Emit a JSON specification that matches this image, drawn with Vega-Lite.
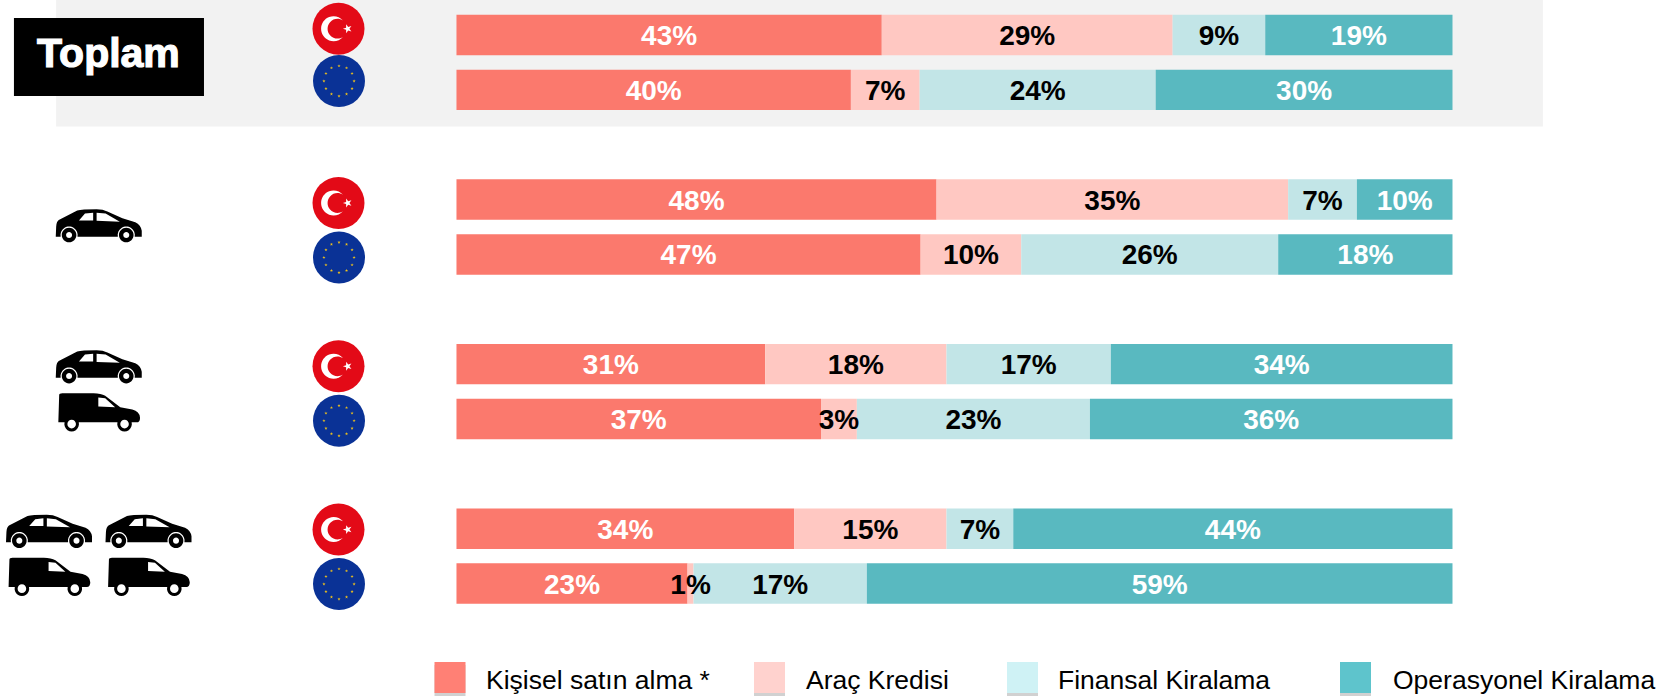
{"$schema":"https://vega.github.io/schema/vega-lite/v6.json","width":1675,"height":696,"padding":0,"autosize":{"type":"fit","contains":"padding"},"background":"white","config":{"view":{"stroke":null},"axis":{"disable":true},"legend":{"disable":true}},"resolve":{"scale":{"x":"independent","y":"independent","color":"independent"}},
"datasets":{"panel":[{"group":"Toplam"}],
"shares":[
{"row":"Toplam-TR","category":"Kişisel satın alma *","order":1,"value":42.7,"label":"43%"},{"row":"Toplam-TR","category":"Araç Kredisi","order":2,"value":29.2,"label":"29%"},{"row":"Toplam-TR","category":"Finansal Kiralama","order":3,"value":9.3,"label":"9%"},{"row":"Toplam-TR","category":"Operasyonel Kiralama","order":4,"value":18.8,"label":"19%"},
{"row":"Toplam-EU","category":"Kişisel satın alma *","order":1,"value":39.6,"label":"40%"},{"row":"Toplam-EU","category":"Araç Kredisi","order":2,"value":6.9,"label":"7%"},{"row":"Toplam-EU","category":"Finansal Kiralama","order":3,"value":23.7,"label":"24%"},{"row":"Toplam-EU","category":"Operasyonel Kiralama","order":4,"value":29.8,"label":"30%"},
{"row":"Binek-TR","category":"Kişisel satın alma *","order":1,"value":48.2,"label":"48%"},{"row":"Binek-TR","category":"Araç Kredisi","order":2,"value":35.3,"label":"35%"},{"row":"Binek-TR","category":"Finansal Kiralama","order":3,"value":6.9,"label":"7%"},{"row":"Binek-TR","category":"Operasyonel Kiralama","order":4,"value":9.6,"label":"10%"},
{"row":"Binek-EU","category":"Kişisel satın alma *","order":1,"value":46.6,"label":"47%"},{"row":"Binek-EU","category":"Araç Kredisi","order":2,"value":10.1,"label":"10%"},{"row":"Binek-EU","category":"Finansal Kiralama","order":3,"value":25.8,"label":"26%"},{"row":"Binek-EU","category":"Operasyonel Kiralama","order":4,"value":17.5,"label":"18%"},
{"row":"Karma-TR","category":"Kişisel satın alma *","order":1,"value":31,"label":"31%"},{"row":"Karma-TR","category":"Araç Kredisi","order":2,"value":18.2,"label":"18%"},{"row":"Karma-TR","category":"Finansal Kiralama","order":3,"value":16.5,"label":"17%"},{"row":"Karma-TR","category":"Operasyonel Kiralama","order":4,"value":34.3,"label":"34%"},
{"row":"Karma-EU","category":"Kişisel satın alma *","order":1,"value":36.6,"label":"37%"},{"row":"Karma-EU","category":"Araç Kredisi","order":2,"value":3.6,"label":"3%"},{"row":"Karma-EU","category":"Finansal Kiralama","order":3,"value":23.4,"label":"23%"},{"row":"Karma-EU","category":"Operasyonel Kiralama","order":4,"value":36.4,"label":"36%"},
{"row":"Filo-TR","category":"Kişisel satın alma *","order":1,"value":33.9,"label":"34%"},{"row":"Filo-TR","category":"Araç Kredisi","order":2,"value":15.3,"label":"15%"},{"row":"Filo-TR","category":"Finansal Kiralama","order":3,"value":6.7,"label":"7%"},{"row":"Filo-TR","category":"Operasyonel Kiralama","order":4,"value":44.1,"label":"44%"},
{"row":"Filo-EU","category":"Kişisel satın alma *","order":1,"value":23.2,"label":"23%"},{"row":"Filo-EU","category":"Araç Kredisi","order":2,"value":0.6,"label":"1%"},{"row":"Filo-EU","category":"Finansal Kiralama","order":3,"value":17.4,"label":"17%"},{"row":"Filo-EU","category":"Operasyonel Kiralama","order":4,"value":58.8,"label":"59%"}],
"flags":[{"row":"Toplam-TR","flag":"TR"},{"row":"Toplam-EU","flag":"EU"},{"row":"Binek-TR","flag":"TR"},{"row":"Binek-EU","flag":"EU"},{"row":"Karma-TR","flag":"TR"},{"row":"Karma-EU","flag":"EU"},{"row":"Filo-TR","flag":"TR"},{"row":"Filo-EU","flag":"EU"}],
"vehicles":[{"row":"Binek-TR","column":"center","type":"sedan"},{"row":"Karma-TR","column":"center","type":"sedan"},{"row":"Karma-EU","column":"center","type":"van"},{"row":"Filo-TR","column":"left","type":"sedan"},{"row":"Filo-TR","column":"right","type":"sedan"},{"row":"Filo-EU","column":"left","type":"van"},{"row":"Filo-EU","column":"right","type":"van"}],
"legend":[{"category":"Kişisel satın alma *","order":1},{"category":"Araç Kredisi","order":2},{"category":"Finansal Kiralama","order":3},{"category":"Operasyonel Kiralama","order":4}]},
"layer":[
{"data":{"name":"panel"},"mark":{"type":"rect","fill":"#F2F2F2"},"encoding":{"x":{"datum":-40.2,"type":"quantitative","scale":{"domain":[-45.83,122.34],"zero":false,"nice":false}},"x2":{"datum":109.08},"y":{"field":"group","type":"nominal","scale":{"type":"band","domain":["Toplam"],"range":[0,126.5],"padding":0}}}},
{"data":{"name":"panel"},"mark":{"type":"rect","fill":"#000000"},"encoding":{"x":{"datum":-44.43,"type":"quantitative","scale":{"domain":[-45.83,122.34],"zero":false,"nice":false}},"x2":{"datum":-25.35},"y":{"field":"group","type":"nominal","scale":{"type":"band","domain":["Toplam"],"range":[18,96],"padding":0}}}},
{"data":{"name":"panel"},"mark":{"type":"text","fill":"#FFFFFF","stroke":"#FFFFFF","strokeWidth":1.2,"font":"Liberation Sans","fontWeight":"bold","fontSize":41,"align":"center","baseline":"middle"},"encoding":{"text":{"field":"group"},"x":{"datum":-34.94,"type":"quantitative","scale":{"domain":[-45.83,122.34],"zero":false,"nice":false}},"y":{"field":"group","type":"nominal","scale":{"type":"band","domain":["Toplam"],"range":[18,92],"padding":0}}}},
{"data":{"name":"shares"},"transform":[{"stack":"value","groupby":["row"],"sort":[{"field":"order","order":"ascending"}],"as":["start","end"]}],"mark":{"type":"bar"},"encoding":{"x":{"field":"start","type":"quantitative","scale":{"domain":[-45.83,122.34],"zero":false,"nice":false}},"x2":{"field":"end"},"y":{"field":"row","type":"nominal","scale":{"type":"band","domain":["Toplam-TR","Toplam-EU","gap1","Binek-TR","Binek-EU","gap2","Karma-TR","Karma-EU","gap3","Filo-TR","Filo-EU"],"range":[7.6,610.95],"paddingInner":0.262,"paddingOuter":0.131}},"color":{"field":"category","type":"nominal","scale":{"domain":["Kişisel satın alma *","Araç Kredisi","Finansal Kiralama","Operasyonel Kiralama"],"range":["#FB796D","#FFC8C2","#C2E5E7","#59B9C0"]}}}},
{"data":{"name":"shares"},"transform":[{"stack":"value","groupby":["row"],"sort":[{"field":"order","order":"ascending"}],"as":["start","end"]},{"calculate":"(datum.start+datum.end)/2","as":"mid"}],"mark":{"type":"text","font":"Liberation Sans","fontWeight":"bold","fontSize":28,"align":"center","baseline":"middle","dy":2},"encoding":{"text":{"field":"label"},"x":{"field":"mid","type":"quantitative","scale":{"domain":[-45.83,122.34],"zero":false,"nice":false}},"y":{"field":"row","type":"nominal","scale":{"type":"band","domain":["Toplam-TR","Toplam-EU","gap1","Binek-TR","Binek-EU","gap2","Karma-TR","Karma-EU","gap3","Filo-TR","Filo-EU"],"range":[7.6,610.95],"paddingInner":0.262,"paddingOuter":0.131}},"color":{"field":"category","type":"nominal","scale":{"domain":["Kişisel satın alma *","Araç Kredisi","Finansal Kiralama","Operasyonel Kiralama"],"range":["#FFFFFF","#000000","#000000","#FFFFFF"]}}}},
{"data":{"name":"flags"},"transform":[{"filter":"datum.flag=='TR' && indexof(datum.row,'Toplam')==0"}],"mark":{"type":"point","shape":"circle","filled":true,"fill":"#E30A17","opacity":1,"size":2704},"encoding":{"x":{"field":"flag","type":"nominal","scale":{"type":"point","domain":["TR","EU"],"range":[338.5,339],"padding":0}},"y":{"field":"row","type":"nominal","scale":{"type":"point","domain":["Toplam-TR","Toplam-EU"],"range":[28.7,81],"padding":0}}}},
{"data":{"name":"flags"},"transform":[{"filter":"datum.flag=='TR' && indexof(datum.row,'Toplam')==0"}],"mark":{"type":"point","shape":"M.172 -.316A.48 .48 0 1 0 .172 .316A.38 .38 0 1 1 .172 -.316ZM.17 0L.293 -.041L.294 -.171L.372 -.067L.496 -.106L.42 0L.496 .106L.372 .067L.294 .171L.293 .041Z","filled":true,"fill":"#FFFFFF","opacity":1,"size":2704},"encoding":{"x":{"field":"flag","type":"nominal","scale":{"type":"point","domain":["TR","EU"],"range":[338.5,339],"padding":0}},"y":{"field":"row","type":"nominal","scale":{"type":"point","domain":["Toplam-TR","Toplam-EU"],"range":[28.7,81],"padding":0}}}},
{"data":{"name":"flags"},"transform":[{"filter":"datum.flag=='EU' && indexof(datum.row,'Toplam')==0"}],"mark":{"type":"point","shape":"circle","filled":true,"fill":"#0A3296","opacity":1,"size":2704},"encoding":{"x":{"field":"flag","type":"nominal","scale":{"type":"point","domain":["TR","EU"],"range":[338.5,339],"padding":0}},"y":{"field":"row","type":"nominal","scale":{"type":"point","domain":["Toplam-TR","Toplam-EU"],"range":[28.7,81],"padding":0}}}},
{"data":{"name":"flags"},"transform":[{"filter":"datum.flag=='EU' && indexof(datum.row,'Toplam')==0"}],"mark":{"type":"point","shape":"M0 -.645l.015 .045 .047 0 -.038 .028 .014 .045 -.038 -.028 -.038 .028 .014 -.045 -.038 -.028 .047 0zM.29 -.567l.015 .045 .047 0 -.038 .028 .014 .045 -.038 -.028 -.038 .028 .014 -.045 -.038 -.028 .047 0zM.502 -.355l.015 .045 .047 0 -.038 .028 .014 .045 -.038 -.028 -.038 .028 .014 -.045 -.038 -.028 .047 0zM.58 -.065l.015 .045 .047 0 -.038 .028 .014 .045 -.038 -.028 -.038 .028 .014 -.045 -.038 -.028 .047 0zM.502 .225l.015 .045 .047 0 -.038 .028 .014 .045 -.038 -.028 -.038 .028 .014 -.045 -.038 -.028 .047 0zM.29 .437l.015 .045 .047 0 -.038 .028 .014 .045 -.038 -.028 -.038 .028 .014 -.045 -.038 -.028 .047 0zM0 .515l.015 .045 .047 0 -.038 .028 .014 .045 -.038 -.028 -.038 .028 .014 -.045 -.038 -.028 .047 0zM-.29 .437l.015 .045 .047 0 -.038 .028 .014 .045 -.038 -.028 -.038 .028 .014 -.045 -.038 -.028 .047 0zM-.502 .225l.015 .045 .047 0 -.038 .028 .014 .045 -.038 -.028 -.038 .028 .014 -.045 -.038 -.028 .047 0zM-.58 -.065l.015 .045 .047 0 -.038 .028 .014 .045 -.038 -.028 -.038 .028 .014 -.045 -.038 -.028 .047 0zM-.502 -.355l.015 .045 .047 0 -.038 .028 .014 .045 -.038 -.028 -.038 .028 .014 -.045 -.038 -.028 .047 0zM-.29 -.567l.015 .045 .047 0 -.038 .028 .014 .045 -.038 -.028 -.038 .028 .014 -.045 -.038 -.028 .047 0z","filled":true,"fill":"#F5C518","opacity":1,"size":2704},"encoding":{"x":{"field":"flag","type":"nominal","scale":{"type":"point","domain":["TR","EU"],"range":[338.5,339],"padding":0}},"y":{"field":"row","type":"nominal","scale":{"type":"point","domain":["Toplam-TR","Toplam-EU"],"range":[28.7,81],"padding":0}}}},
{"data":{"name":"flags"},"transform":[{"filter":"datum.flag=='TR' && indexof(datum.row,'Toplam')!=0"}],"mark":{"type":"point","shape":"circle","filled":true,"fill":"#E30A17","opacity":1,"size":2704},"encoding":{"x":{"field":"flag","type":"nominal","scale":{"type":"point","domain":["TR","EU"],"range":[338.5,339],"padding":0}},"y":{"field":"row","type":"nominal","scale":{"type":"point","domain":["Binek-TR","Binek-EU","gap2","Karma-TR","Karma-EU","gap3","Filo-TR","Filo-EU"],"range":[203,584],"padding":0}}}},
{"data":{"name":"flags"},"transform":[{"filter":"datum.flag=='TR' && indexof(datum.row,'Toplam')!=0"}],"mark":{"type":"point","shape":"M.172 -.316A.48 .48 0 1 0 .172 .316A.38 .38 0 1 1 .172 -.316ZM.17 0L.293 -.041L.294 -.171L.372 -.067L.496 -.106L.42 0L.496 .106L.372 .067L.294 .171L.293 .041Z","filled":true,"fill":"#FFFFFF","opacity":1,"size":2704},"encoding":{"x":{"field":"flag","type":"nominal","scale":{"type":"point","domain":["TR","EU"],"range":[338.5,339],"padding":0}},"y":{"field":"row","type":"nominal","scale":{"type":"point","domain":["Binek-TR","Binek-EU","gap2","Karma-TR","Karma-EU","gap3","Filo-TR","Filo-EU"],"range":[203,584],"padding":0}}}},
{"data":{"name":"flags"},"transform":[{"filter":"datum.flag=='EU' && indexof(datum.row,'Toplam')!=0"}],"mark":{"type":"point","shape":"circle","filled":true,"fill":"#0A3296","opacity":1,"size":2704},"encoding":{"x":{"field":"flag","type":"nominal","scale":{"type":"point","domain":["TR","EU"],"range":[338.5,339],"padding":0}},"y":{"field":"row","type":"nominal","scale":{"type":"point","domain":["Binek-TR","Binek-EU","gap2","Karma-TR","Karma-EU","gap3","Filo-TR","Filo-EU"],"range":[203,584],"padding":0}}}},
{"data":{"name":"flags"},"transform":[{"filter":"datum.flag=='EU' && indexof(datum.row,'Toplam')!=0"}],"mark":{"type":"point","shape":"M0 -.645l.015 .045 .047 0 -.038 .028 .014 .045 -.038 -.028 -.038 .028 .014 -.045 -.038 -.028 .047 0zM.29 -.567l.015 .045 .047 0 -.038 .028 .014 .045 -.038 -.028 -.038 .028 .014 -.045 -.038 -.028 .047 0zM.502 -.355l.015 .045 .047 0 -.038 .028 .014 .045 -.038 -.028 -.038 .028 .014 -.045 -.038 -.028 .047 0zM.58 -.065l.015 .045 .047 0 -.038 .028 .014 .045 -.038 -.028 -.038 .028 .014 -.045 -.038 -.028 .047 0zM.502 .225l.015 .045 .047 0 -.038 .028 .014 .045 -.038 -.028 -.038 .028 .014 -.045 -.038 -.028 .047 0zM.29 .437l.015 .045 .047 0 -.038 .028 .014 .045 -.038 -.028 -.038 .028 .014 -.045 -.038 -.028 .047 0zM0 .515l.015 .045 .047 0 -.038 .028 .014 .045 -.038 -.028 -.038 .028 .014 -.045 -.038 -.028 .047 0zM-.29 .437l.015 .045 .047 0 -.038 .028 .014 .045 -.038 -.028 -.038 .028 .014 -.045 -.038 -.028 .047 0zM-.502 .225l.015 .045 .047 0 -.038 .028 .014 .045 -.038 -.028 -.038 .028 .014 -.045 -.038 -.028 .047 0zM-.58 -.065l.015 .045 .047 0 -.038 .028 .014 .045 -.038 -.028 -.038 .028 .014 -.045 -.038 -.028 .047 0zM-.502 -.355l.015 .045 .047 0 -.038 .028 .014 .045 -.038 -.028 -.038 .028 .014 -.045 -.038 -.028 .047 0zM-.29 -.567l.015 .045 .047 0 -.038 .028 .014 .045 -.038 -.028 -.038 .028 .014 -.045 -.038 -.028 .047 0z","filled":true,"fill":"#F5C518","opacity":1,"size":2704},"encoding":{"x":{"field":"flag","type":"nominal","scale":{"type":"point","domain":["TR","EU"],"range":[338.5,339],"padding":0}},"y":{"field":"row","type":"nominal","scale":{"type":"point","domain":["Binek-TR","Binek-EU","gap2","Karma-TR","Karma-EU","gap3","Filo-TR","Filo-EU"],"range":[203,584],"padding":0}}}},
{"data":{"name":"vehicles"},"transform":[{"filter":"datum.type=='sedan' && datum.row=='Binek-TR'"}],"mark":{"type":"point","shape":"M-1 .26L-.99 .02Q-.98 -.1 -.93 -.13L-.5 -.35Q-.4 -.38 -.05 -.38Q.1 -.38 .2 -.33L.55 -.17L.85 -.08Q.98 -.02 1 .12L1 .26L.836 .26A.2 .2 0 1 0 .444 .26L-.494 .26A.2 .2 0 1 0 -.886 .26ZM-.46 -.12L-.13 -.12L-.13 -.3L-.32 -.28ZM-.05 -.11L.49 -.09L.16 -.28L-.05 -.3ZM-.86 .22A.17 .17 0 1 1 -.52 .22A.17 .17 0 1 1 -.86 .22ZM-.76 .22A.07 .07 0 1 0 -.62 .22A.07 .07 0 1 0 -.76 .22ZM.47 .22A.17 .17 0 1 1 .81 .22A.17 .17 0 1 1 .47 .22ZM.57 .22A.07 .07 0 1 0 .71 .22A.07 .07 0 1 0 .57 .22Z","filled":true,"fill":"#000000","opacity":1,"size":7396,"yOffset":26},"encoding":{"x":{"field":"column","type":"nominal","scale":{"type":"point","domain":["left","center","right"],"range":[49,148.5],"padding":0}},"y":{"field":"row","type":"nominal","scale":{"type":"band","domain":["Toplam-TR","Toplam-EU","gap1","Binek-TR","Binek-EU","gap2","Karma-TR","Karma-EU","gap3","Filo-TR","Filo-EU"],"range":[7.6,610.95],"paddingInner":0.262,"paddingOuter":0.131}}}},
{"data":{"name":"vehicles"},"transform":[{"filter":"datum.type=='sedan' && datum.row!='Binek-TR'"}],"mark":{"type":"point","shape":"M-1 .26L-.99 .02Q-.98 -.1 -.93 -.13L-.5 -.35Q-.4 -.38 -.05 -.38Q.1 -.38 .2 -.33L.55 -.17L.85 -.08Q.98 -.02 1 .12L1 .26L.836 .26A.2 .2 0 1 0 .444 .26L-.494 .26A.2 .2 0 1 0 -.886 .26ZM-.46 -.12L-.13 -.12L-.13 -.3L-.32 -.28ZM-.05 -.11L.49 -.09L.16 -.28L-.05 -.3ZM-.86 .22A.17 .17 0 1 1 -.52 .22A.17 .17 0 1 1 -.86 .22ZM-.76 .22A.07 .07 0 1 0 -.62 .22A.07 .07 0 1 0 -.76 .22ZM.47 .22A.17 .17 0 1 1 .81 .22A.17 .17 0 1 1 .47 .22ZM.57 .22A.07 .07 0 1 0 .71 .22A.07 .07 0 1 0 .57 .22Z","filled":true,"fill":"#000000","opacity":1,"size":7396,"yOffset":2.5},"encoding":{"x":{"field":"column","type":"nominal","scale":{"type":"point","domain":["left","center","right"],"range":[49,148.5],"padding":0}},"y":{"field":"row","type":"nominal","scale":{"type":"band","domain":["Toplam-TR","Toplam-EU","gap1","Binek-TR","Binek-EU","gap2","Karma-TR","Karma-EU","gap3","Filo-TR","Filo-EU"],"range":[7.6,610.95],"paddingInner":0.262,"paddingOuter":0.131}}}},
{"data":{"name":"vehicles"},"transform":[{"filter":"datum.type=='van'"}],"mark":{"type":"point","shape":"M-.94 .23L-.92 -.41Q-.92 -.45 -.85 -.45L-.12 -.45Q.05 -.45 .15 -.39L.5 -.12L.78 -.07Q.95 -.03 .96 .12Q.96 .23 .88 .23L.765 .23A.17 .17 0 1 1 .435 .23L-.465 .23A.17 .17 0 1 1 -.795 .23ZM-.01 -.14L.38 -.12L.15 -.33L-.01 -.35ZM-.73 .27A.1 .1 0 1 0 -.53 .27A.1 .1 0 1 0 -.73 .27ZM.5 .27A.1 .1 0 1 0 .7 .27A.1 .1 0 1 0 .5 .27Z","filled":true,"fill":"#000000","opacity":1,"size":7396,"yOffset":-6.5},"encoding":{"x":{"field":"column","type":"nominal","scale":{"type":"point","domain":["left","center","right"],"range":[49,148.5],"padding":0}},"y":{"field":"row","type":"nominal","scale":{"type":"band","domain":["Toplam-TR","Toplam-EU","gap1","Binek-TR","Binek-EU","gap2","Karma-TR","Karma-EU","gap3","Filo-TR","Filo-EU"],"range":[7.6,610.95],"paddingInner":0.262,"paddingOuter":0.131}}}},
{"data":{"name":"legend"},"mark":{"type":"point","shape":"square","filled":true,"fill":"#999999","opacity":0.45,"size":961,"yOffset":3},"encoding":{"x":{"field":"order","type":"quantitative","scale":{"domain":[1,2,3,4],"range":[450,769.5,1022.5,1355.5],"zero":false,"nice":false}},"y":{"field":"category","type":"nominal","scale":{"type":"point","domain":["Kişisel satın alma *","Araç Kredisi","Finansal Kiralama","Operasyonel Kiralama"],"range":[677.5,677.5],"padding":0}}}},
{"data":{"name":"legend"},"mark":{"type":"point","shape":"square","filled":true,"opacity":1,"size":961},"encoding":{"x":{"field":"order","type":"quantitative","scale":{"domain":[1,2,3,4],"range":[450,769.5,1022.5,1355.5],"zero":false,"nice":false}},"y":{"field":"category","type":"nominal","scale":{"type":"point","domain":["Kişisel satın alma *","Araç Kredisi","Finansal Kiralama","Operasyonel Kiralama"],"range":[677.5,677.5],"padding":0}},"color":{"field":"category","type":"nominal","scale":{"domain":["Kişisel satın alma *","Araç Kredisi","Finansal Kiralama","Operasyonel Kiralama"],"range":["#FF8075","#FFD2CE","#CFF2F5","#5EC4CC"]}}}},
{"data":{"name":"legend"},"mark":{"type":"text","font":"Liberation Sans","fontSize":26.5,"align":"left","baseline":"middle","fill":"#000000"},"encoding":{"text":{"field":"category"},"x":{"field":"order","type":"quantitative","scale":{"domain":[1,2,3,4],"range":[486,806,1058,1393],"zero":false,"nice":false}},"y":{"field":"category","type":"nominal","scale":{"type":"point","domain":["Kişisel satın alma *","Araç Kredisi","Finansal Kiralama","Operasyonel Kiralama"],"range":[681,681],"padding":0}}}}
]}
